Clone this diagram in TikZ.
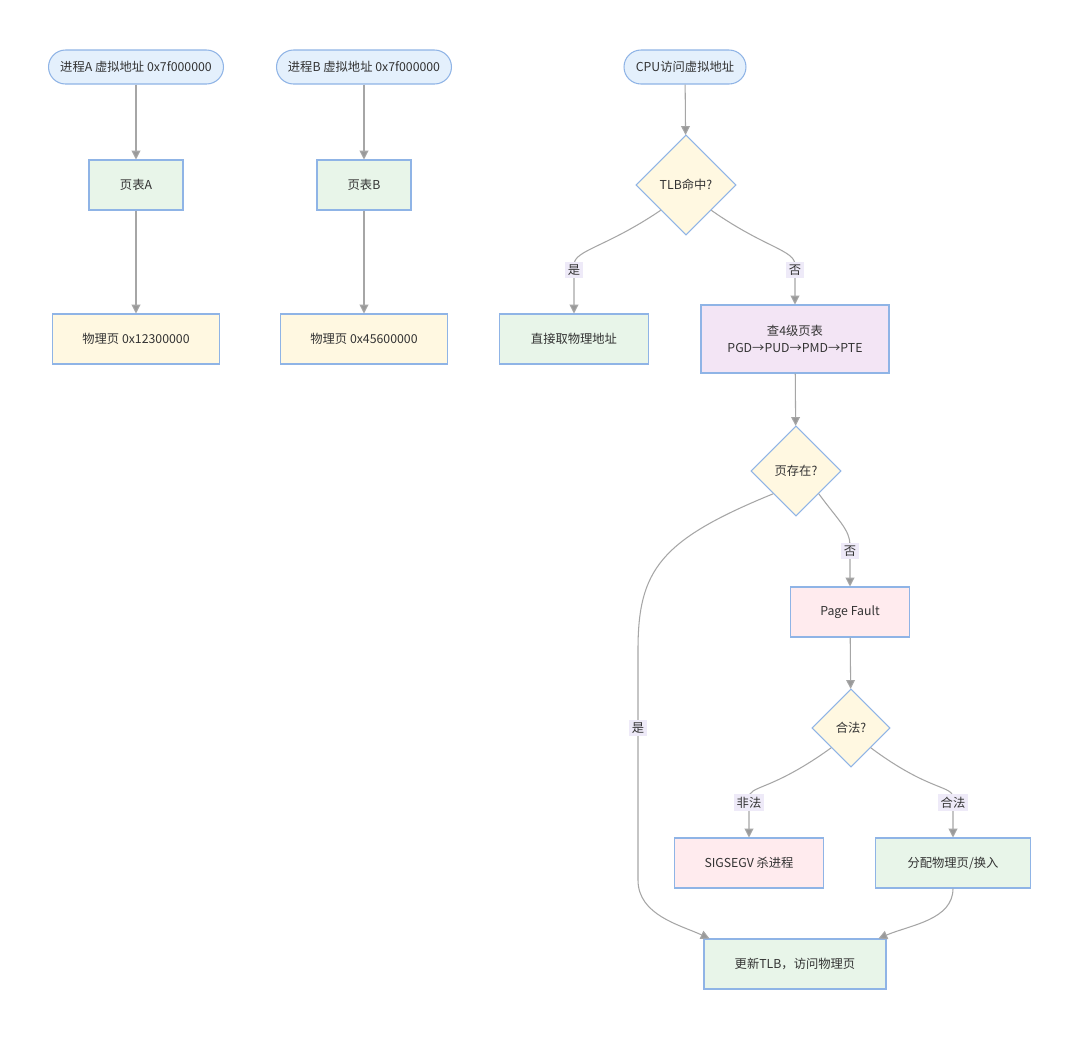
\documentclass[tikz,border=0pt]{standalone}
\usepackage{fontspec}
\newfontfamily\cjk{Noto Sans CJK SC}
\usetikzlibrary{arrows.meta, calc, shapes.geometric}
\definecolor{boxline}{HTML}{8FB4E6}
\definecolor{termfill}{HTML}{E4F0FC}
\definecolor{grnfill}{HTML}{E8F5E9}
\definecolor{yelfill}{HTML}{FFF8E1}
\definecolor{purfill}{HTML}{F3E5F5}
\definecolor{pnkfill}{HTML}{FFEBEE}
\definecolor{linegray}{HTML}{A6A6A6}
\definecolor{tagfill}{HTML}{EEEAF8}
\definecolor{txt}{HTML}{333333}
\tikzset{
  base/.style={draw=boxline, line width=0.6pt, text=txt, align=center,
    font=\cjk\fontsize{7}{10}\selectfont},
  term/.style={base, fill=termfill, rounded corners=0.34cm, minimum height=0.68cm},
  box/.style={base, minimum height=1cm},
  ask/.style={base, diamond, fill=yelfill, inner sep=0pt},
  link/.style={draw=linegray, line width=0.6pt, -{Triangle[length=5pt,width=5pt,fill=gray!80]}},
  tag/.style={fill=tagfill, text=txt, inner sep=1.6pt, font=\cjk\fontsize{7}{8}\selectfont},
}
\begin{document}
\begin{tikzpicture}[x=0.02cm, y=-0.02cm]
\useasboundingbox[fill=white] (0,0) rectangle (1080,1039);

\foreach \p/\x/\addr in {A/136/12300000, B/364/45600000} {
  \node[term, minimum width=3.5cm] (v\p) at (\x,67) {进程\p{} 虚拟地址 0x7f000000};
  \node[box, fill=grnfill, minimum width=1.88cm] (t\p) at (\x,185) {页表\p};
  \node[box, fill=yelfill, minimum width=3.34cm] (m\p) at (\x,339) {物理页 0x\addr};
  \draw[link] (v\p) -- (t\p);
  \draw[link] (t\p) -- (m\p);
}

\node[term, minimum width=2.44cm] (cpu) at (685,67) {CPU访问虚拟地址};
\node[ask, minimum width=2cm, minimum height=2cm] (tlb) at (686,185) {TLB命中?};
\node[box, fill=grnfill, minimum width=2.98cm] (hit) at (574,339) {直接取物理地址};
\node[box, fill=purfill, minimum width=3.76cm, minimum height=1.36cm] (walk) at (795,339) {查4级页表\\PGD→PUD→PMD→PTE};
\node[ask, minimum width=1.8cm, minimum height=1.8cm] (exist) at (796,471) {页存在?};
\node[box, fill=pnkfill, minimum width=2.38cm] (fault) at (850,612) {Page Fault};
\node[ask, minimum width=1.56cm, minimum height=1.56cm] (legal) at (851,728) {合法?};
\node[box, fill=pnkfill, minimum width=2.98cm] (kill) at (749,863) {SIGSEGV 杀进程};
\node[box, fill=grnfill, minimum width=3.1cm] (alloc) at (953,863) {分配物理页/换入};
\node[box, fill=grnfill, minimum width=3.64cm] (upd) at (795,964) {更新TLB，访问物理页};

\draw[link] (cpu) -- (tlb);
\draw[link] (tlb.south west) .. controls (605,248) and (574,250) .. (574,265)
  -- node[tag, pos=0.1] {是} (hit.north);
\draw[link] (tlb.south east) .. controls (765,248) and (795,250) .. (795,265)
  -- node[tag, pos=0.125] {否} (walk.north);
\draw[link] (walk) -- (exist);
\draw[link] (exist.south east) .. controls (838,520) and (850,530) .. (850,545)
  -- node[tag, pos=0.14] {否} (fault.north);
\draw[link] (exist.south west) .. controls (660,540) and (638,570) .. (638,650)
  -- node[tag, pos=0.34] {是} (638,880)
  .. controls (638,915) and (680,925) .. ([xshift=0.12cm]upd.north west);
\draw[link] (fault) -- (legal);
\draw[link] (legal.south west) .. controls (770,792) and (749,785) .. (749,798)
  -- node[tag, pos=0.125] {非法} (kill.north);
\draw[link] (legal.south east) .. controls (930,792) and (953,785) .. (953,798)
  -- node[tag, pos=0.125] {合法} (alloc.north);
\draw[link] (alloc.south) .. controls (953,920) and (910,925) .. ([xshift=-0.16cm]upd.north east);
\end{tikzpicture}
\end{document}
